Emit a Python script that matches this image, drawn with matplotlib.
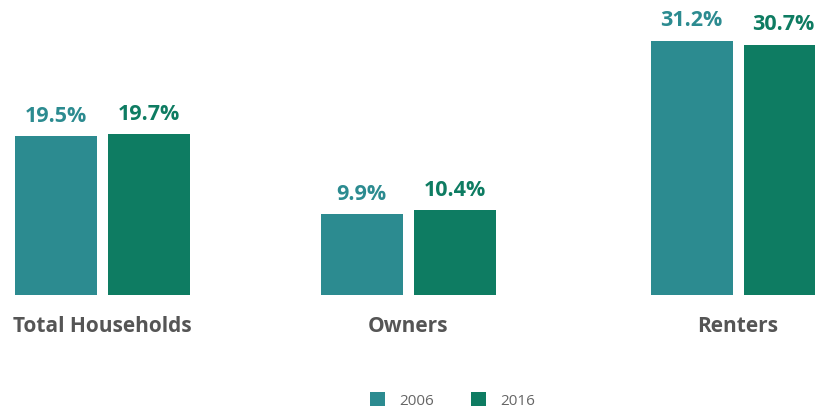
import matplotlib.pyplot as plt

categories = ["Total Households", "Owners", "Renters"]
years = ["2006", "2016"]
values_2006 = [19.5, 9.9, 31.2]
values_2016 = [19.7, 10.4, 30.7]

colors = ["#2C8B90", "#0E7C62"]
centers = [102, 408, 738]
bar_w = 82
offset = 46.5

fig = plt.figure(figsize=(8.15, 4.1), dpi=100)
ax = fig.add_axes([0, 0, 1, 1])
ax.set_xlim(0, 815)
ax.set_ylim(-114 / 8.15, 296 / 8.15)
ax.axis("off")

for i, (vals, col) in enumerate(zip([values_2006, values_2016], colors)):
    xs = [c + (i * 2 - 1) * offset for c in centers]
    ax.bar(xs, vals, width=bar_w, color=col, label=years[i])
    for x, v in zip(xs, vals):
        ax.text(min(x, 783), v + 1.9, f"{v}%", ha="center", va="baseline",
                fontsize=15.5, fontweight="bold", color=col, family="Open Sans")

for c, name in zip(centers, categories):
    ax.text(c, -3.8, name, ha="center", va="center", fontsize=15,
            fontweight="bold", color="#555555", family="Open Sans")

leg = ax.legend(loc="lower center", bbox_to_anchor=(0.555, -0.032), ncol=2,
                frameon=False, handlelength=1.0, handleheight=1.0,
                columnspacing=2.45, handletextpad=0.9,
                prop={"family": "Open Sans", "size": 11})
for t in leg.get_texts():
    t.set_color("#666666")

fig.savefig("out.png", dpi=100)
